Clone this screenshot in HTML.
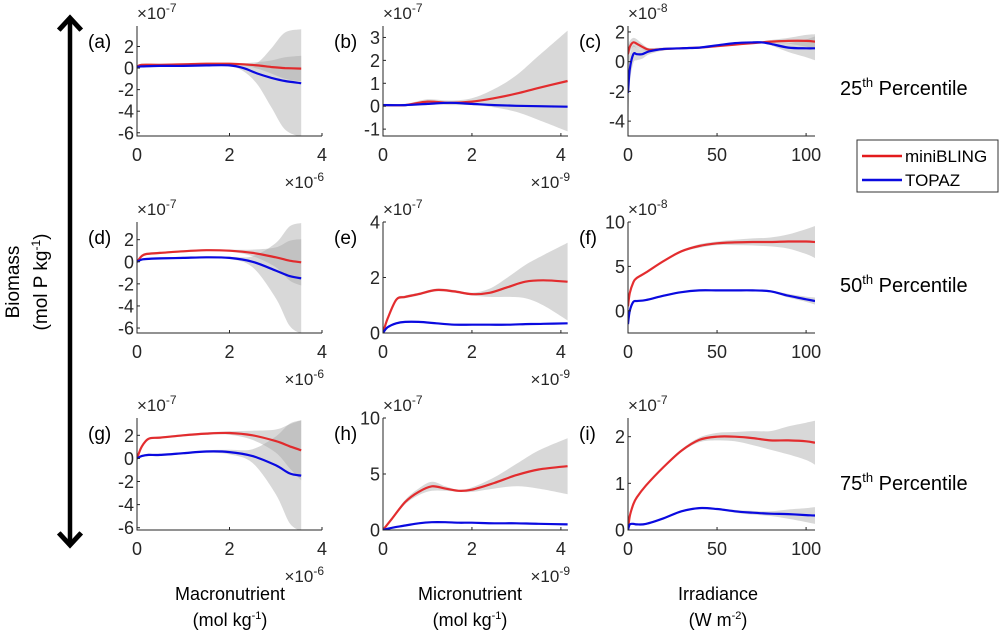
<!DOCTYPE html>
<html><head><meta charset="utf-8"><style>
body{margin:0;background:#fff;}
svg{display:block;font-family:"Liberation Sans",sans-serif;}
.tk{font-size:18px;fill:#262626;}
.ex{font-size:17px;fill:#262626;}
.cal{font-family:"Liberation Sans","DejaVu Sans",sans-serif;fill:#000;}
</style></head><body>
<svg id="fig" width="1002" height="630" viewBox="0 0 1002 630">
<defs><marker id="ah" markerWidth="6" markerHeight="6" refX="3" refY="3" orient="auto-start-reverse" markerUnits="strokeWidth"><path d="M0.3,0.5 L3,3 L0.3,5.5" fill="none" stroke="#000" stroke-width="1.1"/></marker></defs>
<line x1="70" y1="18" x2="70" y2="545" stroke="#000" stroke-width="4.5" marker-start="url(#ah)" marker-end="url(#ah)"/>
<text class="cal" x="0" y="0" font-size="19" text-anchor="middle" transform="translate(19,282) rotate(-90)">Biomass</text>
<text class="cal" x="0" y="0" font-size="19" text-anchor="middle" transform="translate(47,282) rotate(-90)">(mol P kg<tspan dy="-7" font-size="12">-1</tspan><tspan dy="7">)</tspan></text>
<text class="cal" x="230" y="600" font-size="18" text-anchor="middle">Macronutrient</text>
<text class="cal" x="230" y="626" font-size="18" text-anchor="middle">(mol kg<tspan dy="-7" font-size="11">-1</tspan><tspan dy="7">)</tspan></text>
<text class="cal" x="470" y="600" font-size="18" text-anchor="middle">Micronutrient</text>
<text class="cal" x="470" y="626" font-size="18" text-anchor="middle">(mol kg<tspan dy="-7" font-size="11">-1</tspan><tspan dy="7">)</tspan></text>
<text class="cal" x="718" y="600" font-size="18" text-anchor="middle">Irradiance</text>
<text class="cal" x="718" y="626" font-size="18" text-anchor="middle">(W m<tspan dy="-7" font-size="11">-2</tspan><tspan dy="7">)</tspan></text>
<text class="cal" x="840" y="95" font-size="20">25<tspan dy="-8" font-size="13">th</tspan><tspan dy="8"> Percentile</tspan></text>
<text class="cal" x="840" y="292" font-size="20">50<tspan dy="-8" font-size="13">th</tspan><tspan dy="8"> Percentile</tspan></text>
<text class="cal" x="840" y="490" font-size="20">75<tspan dy="-8" font-size="13">th</tspan><tspan dy="8"> Percentile</tspan></text>
<g>
<rect x="857" y="140" width="141" height="52" fill="#fff" stroke="#333" stroke-width="1"/>
<line x1="862" y1="156" x2="902" y2="156" stroke="#e31a1c" stroke-width="2.5"/>
<text x="905" y="162" font-size="17" fill="#000">miniBLING</text>
<line x1="862" y1="180" x2="902" y2="180" stroke="#0a0ae0" stroke-width="2.5"/>
<text x="905" y="186" font-size="17" fill="#000">TOPAZ</text>
</g>
<g id="panels"></g>
</svg>
<script>
const aX=[0,0.1,0.5,1,1.5,2,2.3,2.6,2.9,3.2,3.55];
const aRed=[0.1,0.3,0.3,0.35,0.4,0.4,0.35,0.25,0.1,0,-0.05];
const aBlue=[0.1,0.15,0.2,0.2,0.25,0.25,0,-0.5,-0.9,-1.2,-1.4];
const aRedErr=[.1,.1,.1,.1,.1,.1,.1,.3,.6,1.0,1.2];
const aBlueErr=[.1,.1,.1,.1,.1,.1,.3,1.0,2.7,4.5,5.0];

const bX=[0,0.5,1,1.5,2,2.5,3,3.5,4.15];
const bRed=[0.05,0.05,0.2,0.15,0.2,0.35,0.55,0.8,1.1];
const bBlue=[0.05,0.05,0.1,0.15,0.1,0.05,0.02,0,-0.02];
const bRedErr=[.05,.05,.1,.1,.15,.4,.8,1.4,2.2];
const bBlueErr=[.05,.05,.05,.05,.05,.05,.05,.05,.05];

const cX=[0,1,3,5,8,12,20,30,40,50,60,70,75,80,90,100,105];
const cRed=[0.5,1.0,1.3,1.2,1.0,0.8,0.85,0.9,0.95,1.05,1.15,1.25,1.3,1.35,1.4,1.4,1.35];
const cBlue=[-2.1,-0.5,0.5,0.5,0.5,0.7,0.85,0.9,0.95,1.1,1.25,1.3,1.3,1.2,0.95,0.9,0.9];
const cRedErr=[.5,.4,.3,.3,.2,.1,.05,.05,.05,.05,.05,.05,.05,.1,.2,.4,.5];
const cBlueErr=[2.5,1.0,.6,.4,.3,.2,.1,.05,.05,.05,.05,.05,.05,.1,.3,.6,.8];

const dX=[0,0.1,0.2,0.5,1,1.5,2,2.5,3,3.3,3.55];
const dRed=[0,0.5,0.7,0.8,0.95,1.05,1.0,0.8,0.4,0.1,-0.05];
const dBlue=[0,0.2,0.25,0.3,0.35,0.4,0.35,0,-0.8,-1.3,-1.5];
const dRedErr=[.1,.1,.1,.1,.1,.1,.1,.3,.9,1.8,2.1];
const dBlueErr=[.1,.1,.1,.1,.1,.1,.1,.5,2.5,4.5,5.0];

const eX=[0,0.1,0.3,0.5,0.8,1.2,1.6,2,2.4,2.8,3.2,3.6,4.15];
const eRed=[0,0.5,1.2,1.3,1.4,1.55,1.5,1.4,1.45,1.65,1.85,1.9,1.85];
const eBlue=[0,0.2,0.35,0.4,0.4,0.35,0.3,0.3,0.3,0.3,0.32,0.33,0.35];
const eRedErr=[.05,.05,.05,.05,.05,.05,.05,.05,.15,.35,.6,.9,1.4];
const eBlueErr=[.03,.03,.03,.03,.03,.03,.03,.03,.03,.03,.03,.03,.03];

const fX=[0,1,3,5,10,20,30,40,50,60,70,80,90,100,105];
const fRed=[0.5,2,3.2,3.7,4.3,5.6,6.7,7.3,7.6,7.7,7.75,7.75,7.8,7.8,7.75];
const fBlue=[-1.5,0,1,1.1,1.2,1.7,2.1,2.3,2.3,2.3,2.3,2.2,1.7,1.3,1.1];
const fRedErr=[.3,.2,.1,.1,.1,.1,.1,.2,.2,.3,.4,.5,.8,1.4,1.8];
const fBlueErr=[.5,.3,.1,.1,.1,.1,.1,.1,.1,.1,.1,.1,.2,.3,.4];

const gX=[0,0.1,0.25,0.5,1,1.5,2,2.5,3,3.3,3.55];
const gRed=[0,1.0,1.7,1.8,2.0,2.15,2.2,2.0,1.5,1.05,0.7];
const gBlue=[0,0.2,0.3,0.3,0.45,0.6,0.55,0.2,-0.6,-1.3,-1.5];
const gRedErr=[.1,.1,.1,.1,.1,.1,.15,.4,1.0,1.9,2.6];
const gBlueErr=[.1,.1,.1,.1,.1,.1,.2,.6,2.5,4.3,4.8];

const hX=[0,0.2,0.5,0.8,1.1,1.4,1.7,2,2.5,3,3.5,4.15];
const hRed=[0,1,2.5,3.4,3.9,3.7,3.5,3.6,4.2,4.9,5.4,5.7];
const hBlue=[0,0.2,0.4,0.6,0.7,0.7,0.65,0.65,0.6,0.6,0.55,0.5];
const hRedErr=[.05,.1,.2,.3,.4,.2,.1,.2,.5,1.0,1.7,2.5];
const hBlueErr=[.05,.05,.05,.05,.05,.05,.05,.05,.05,.05,.05,.05];

const iX=[0,1,3,5,10,20,30,40,50,60,70,80,90,100,105];
const iRed=[0,0.3,0.55,0.7,0.95,1.35,1.7,1.93,2.0,2.0,1.97,1.92,1.92,1.9,1.87];
const iBlue=[0,0.12,0.13,0.12,0.13,0.25,0.4,0.47,0.45,0.4,0.37,0.35,0.34,0.32,0.31];
const iRedErr=[.02,.02,.02,.02,.02,.02,.03,.05,.08,.1,.15,.2,.3,.4,.47];
const iBlueErr=[.02,.02,.02,.02,.02,.02,.02,.02,.02,.03,.04,.05,.1,.15,.18];

const yTicksA=[-6,-4,-2,0,2], yTicksB=[-1,0,1,2,3], yTicksC=[-4,-2,0,2];
const yTicksE=[0,2,4], yTicksF=[0,5,10], yTicksH=[0,5,10], yTicksI=[0,1,2];
const xTicksMac=[0,2,4], xTicksMic=[0,2,4], xTicksIrr=[0,50,100];
const yExps=["-7","-7","-8","-7","-7","-8","-7","-7","-7"];
const xExps=["-6","-9",null];

const NS="http://www.w3.org/2000/svg";
const cols=[{l:137,r:322,x0:0,x1:4},{l:383,r:568,x0:0,x1:4.16},{l:628,r:815,x0:0,x1:105}];
const rows=[{t:26,b:136},{t:222,b:333},{t:418,b:530}];
const panels=[
 {id:"a",r:0,c:0,y0:-6.3,y1:3.9,yt:yTicksA,xt:xTicksMac,X:aX,R:aRed,B:aBlue,RE:aRedErr,BE:aBlueErr},
 {id:"b",r:0,c:1,y0:-1.3,y1:3.5,yt:yTicksB,xt:xTicksMic,X:bX,R:bRed,B:bBlue,RE:bRedErr,BE:bBlueErr},
 {id:"c",r:0,c:2,y0:-5,y1:2.4,yt:yTicksC,xt:xTicksIrr,X:cX,R:cRed,B:cBlue,RE:cRedErr,BE:cBlueErr},
 {id:"d",r:1,c:0,y0:-6.45,y1:3.6,yt:yTicksA,xt:xTicksMac,X:dX,R:dRed,B:dBlue,RE:dRedErr,BE:dBlueErr},
 {id:"e",r:1,c:1,y0:0,y1:4,yt:yTicksE,xt:xTicksMic,X:eX,R:eRed,B:eBlue,RE:eRedErr,BE:eBlueErr},
 {id:"f",r:1,c:2,y0:-2.5,y1:10,yt:yTicksF,xt:xTicksIrr,X:fX,R:fRed,B:fBlue,RE:fRedErr,BE:fBlueErr},
 {id:"g",r:2,c:0,y0:-6.2,y1:3.5,yt:yTicksA,xt:xTicksMac,X:gX,R:gRed,B:gBlue,RE:gRedErr,BE:gBlueErr},
 {id:"h",r:2,c:1,y0:0,y1:10,yt:yTicksH,xt:xTicksMic,X:hX,R:hRed,B:hBlue,RE:hRedErr,BE:hBlueErr},
 {id:"i",r:2,c:2,y0:0,y1:2.4,yt:yTicksI,xt:xTicksIrr,X:iX,R:iRed,B:iBlue,RE:iRedErr,BE:iBlueErr}
];
function mk(tag,attrs,parent){const e=document.createElementNS(NS,tag);for(const k in attrs)e.setAttribute(k,attrs[k]);parent.appendChild(e);return e;}
function spline(pts){let d="M"+pts[0][0].toFixed(1)+","+pts[0][1].toFixed(1);
 for(let i=0;i<pts.length-1;i++){const p0=pts[Math.max(0,i-1)],p1=pts[i],p2=pts[i+1],p3=pts[Math.min(pts.length-1,i+2)];
  const c1=[p1[0]+(p2[0]-p0[0])/6,p1[1]+(p2[1]-p0[1])/6],c2=[p2[0]-(p3[0]-p1[0])/6,p2[1]-(p3[1]-p1[1])/6];
  d+=" C"+c1.map(v=>v.toFixed(1))+" "+c2.map(v=>v.toFixed(1))+" "+p2.map(v=>v.toFixed(1));}
 return d;}
function revSpline(pts){return spline(pts.slice().reverse()).replace(/^M/,"L");}
const root=document.getElementById("panels");
panels.forEach((p,idx)=>{
 const C=cols[p.c],Rw=rows[p.r];
 const sx=v=>C.l+(v-C.x0)/(C.x1-C.x0)*(C.r-C.l);
 const sy=v=>Rw.b-(v-p.y0)/(p.y1-p.y0)*(Rw.b-Rw.t);
 const g=mk("g",{},root);
 
 
 const cid="clip"+p.id;
 const cp=mk("clipPath",{id:cid},g);mk("rect",{x:C.l,y:Rw.t,width:C.r-C.l,height:Rw.b-Rw.t},cp);
 const pg=mk("g",{"clip-path":"url(#"+cid+")"},g);
 [["red",p.R,p.RE],["blue",p.B,p.BE]].forEach(([nm,Y,E])=>{
  const up=p.X.map((x,i)=>[sx(x),sy(Y[i]+E[i])]),lo=p.X.map((x,i)=>[sx(x),sy(Y[i]-E[i])]);
  const band=mk("path",{d:spline(up)+" "+revSpline(lo)+" Z",fill:"#a8a8a8","fill-opacity":"0.45"},pg);
  
  
 });
 const rl=mk("path",{d:spline(p.X.map((x,i)=>[sx(x),sy(p.R[i])])),fill:"none",stroke:"#e31a1c","stroke-width":"2.2","stroke-opacity":"0.9"},pg);
 
 
 const bl=mk("path",{d:spline(p.X.map((x,i)=>[sx(x),sy(p.B[i])])),fill:"none",stroke:"#0a0ae0","stroke-width":"2.2"},pg);
 
 
 mk("path",{d:`M${C.l},${Rw.t}V${Rw.b}H${C.r}`,fill:"none",stroke:"#262626","stroke-width":"1"},g);
 p.yt.forEach(t=>{const y=sy(t);mk("line",{x1:C.l,x2:C.l+3,y1:y,y2:y,stroke:"#262626"},g);
  const tx=mk("text",{x:C.l-3,y:y+6.5,"text-anchor":"end",class:"tk"},g);tx.textContent=String(t);
  
  });
 p.xt.forEach(t=>{const x=sx(t);mk("line",{x1:x,x2:x,y1:Rw.b,y2:Rw.b-3,stroke:"#262626"},g);
  const tx=mk("text",{x:x,y:Rw.b+25,"text-anchor":"middle",class:"tk"},g);tx.textContent=String(t);
  
  });
 const ye=mk("text",{x:C.l,y:Rw.t-7,class:"ex"},g);ye.innerHTML="×10<tspan dy='-7' font-size='12'>"+yExps[idx]+"</tspan>";
 
 
 if(xExps[p.c]){const xe=mk("text",{x:C.r+2,y:Rw.b+52,"text-anchor":"end",class:"ex"},g);xe.innerHTML="×10<tspan dy='-7' font-size='12'>"+xExps[p.c]+"</tspan>";
  
  }
 const lb=mk("text",{x:C.l-49,y:Rw.t+22,"font-size":"19",fill:"#000"},g);lb.textContent="("+p.id+")";
 
 
});
</script>
</body></html>
